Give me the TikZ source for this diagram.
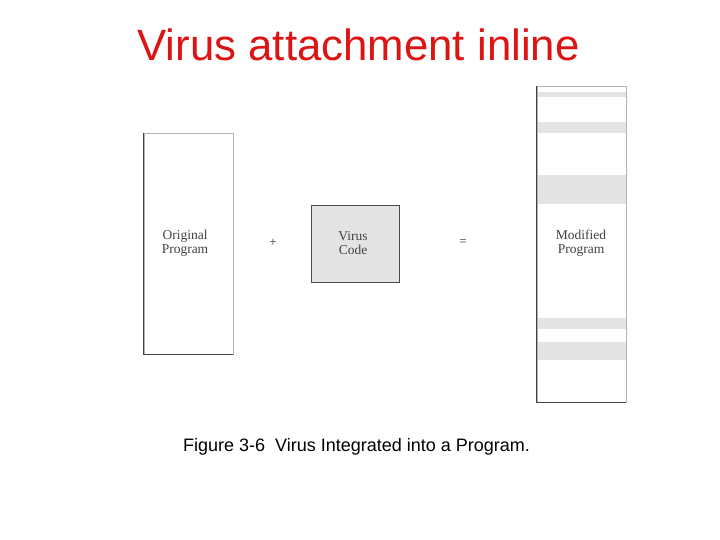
\documentclass[tikz,border=0pt]{standalone}
\usepackage{fontspec}
\setmainfont{Liberation Serif}
\newfontfamily\arialfont{Liberation Sans}
\usetikzlibrary{positioning}
\definecolor{virusred}{RGB}{220,20,20}
\definecolor{bandgray}{RGB}{228,228,228}
\tikzset{
  progbox/.style={draw=black!30,line width=0.8pt,inner sep=0pt},
  boxlabel/.style={align=center,font=\fontsize{13.5}{14}\selectfont,text=black!75},
  opsign/.style={font=\fontsize{13}{14}\selectfont,text=black!80},
  darkedge/.style={draw=black!75,line width=0.9pt}
}
\begin{document}
\begin{tikzpicture}[x=1pt,y=-1pt]
\useasboundingbox (0,0) rectangle (720,540);
% title
\node[text=virusred,font=\arialfont\fontsize{43.8}{48}\selectfont] (title) at (358.5,45) {Virus attachment inline};
% bands of virus code spread through the modified program
\foreach \ya/\yb in {92/97,122/133,175/204,318/329,342/360}
  \fill[bandgray] (537,\ya) rectangle (626,\yb);
% the three boxes
\node[progbox,minimum width=89pt,minimum height=221pt] (orig) at (188.5,243.5) {};
\node[progbox,fill=bandgray,draw=black!70,minimum width=88pt,minimum height=77pt] (virus) at (355,243.5) {};
\node[progbox,minimum width=89pt,minimum height=316pt] (mod) at (581.5,244) {};
% darker left and bottom edges
\draw[darkedge] (orig.north west) -- (orig.south west) -- (orig.south east);
\draw[darkedge] (mod.north west) -- (mod.south west) -- (mod.south east);
% labels
\node[boxlabel] (origtext) at (185,243) {Original\\Program};
\node[boxlabel] (virustext) at (353,243) {Virus\\Code};
\node[boxlabel] (modtext) at (581,243) {Modified\\Program};
% plus and equals
\node[opsign] (plus) at (273,243) {+};
\node[opsign] (equals) at (463,243) {=};
% caption
\node[font=\arialfont\fontsize{18}{20}\selectfont] (caption) at (356.5,447) {Figure 3-6\ \ Virus Integrated into a Program.};
\end{tikzpicture}
\end{document}
